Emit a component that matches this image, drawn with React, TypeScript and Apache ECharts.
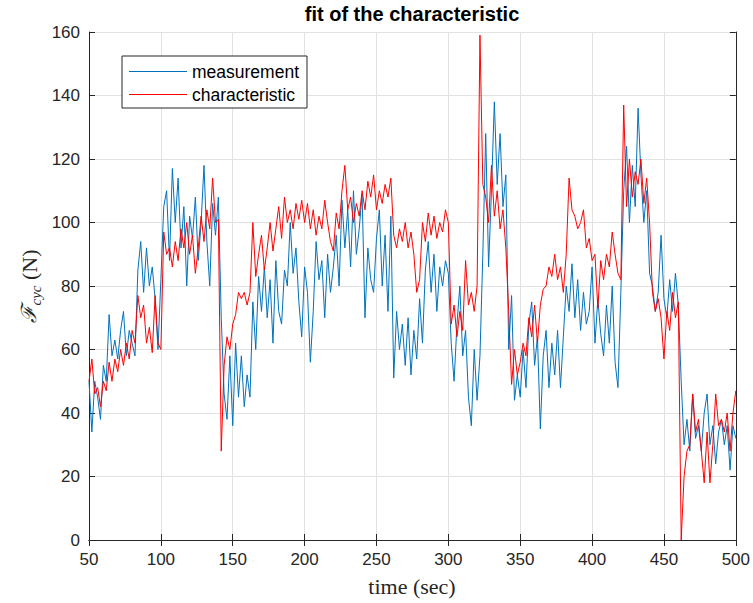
import React, { useEffect, useRef } from "react";
import * as echarts from "echarts";

const T0 = 50;
const STEP = 2;

// measurement (blue), t = 50..500 every 2 s
const measurement = [
  50, 34, 50, 45, 38, 55, 50, 71, 58, 63,
  57, 66, 72, 58, 66, 62, 58, 85, 94, 78,
  92, 80, 86, 76, 60, 82, 105, 110, 88, 117,
  100, 114, 92, 105, 80, 102, 95, 108, 88, 100,
  118, 94, 80, 106, 96, 108, 70, 46, 38, 58,
  36, 62, 45, 58, 42, 52, 45, 75, 60, 83,
  72, 86, 70, 82, 62, 88, 72, 68, 85, 80,
  100, 84, 92, 75, 64, 86, 78, 56, 72, 94,
  82, 88, 70, 90, 78, 86, 96, 80, 107, 92,
  104, 86, 110, 90, 98, 109, 70, 92, 82, 78,
  95, 104, 80, 96, 72, 102, 51, 72, 60, 68,
  55, 70, 52, 66, 57, 76, 62, 85, 94, 78,
  90, 72, 86, 80, 88, 84, 62, 50, 68, 80,
  58, 66, 45, 36, 60, 44, 58, 90, 128, 86,
  110, 138, 112, 128, 105, 115, 60, 77, 44, 52,
  45, 60, 48, 68, 75, 55, 64, 35, 58, 66,
  48, 62, 52, 66, 48, 64, 80, 72, 87, 70,
  82, 66, 78, 68, 72, 86, 62, 76, 65, 58,
  74, 62, 80, 56, 48, 78, 110, 124, 100, 118,
  105, 136, 115, 100, 110, 84, 80, 72, 78, 96,
  76, 70, 82, 72, 84, 74, 50, 30, 38, 28,
  46, 32, 36, 28, 40, 46, 30, 36, 24, 34,
  38, 30, 36, 22, 36, 32,
];

// characteristic (red), t = 50..500 every 2 s
const characteristic = [
  50, 57, 46, 48, 42, 50, 47, 56, 50, 57,
  53, 60, 55, 62, 57, 66, 62, 77, 70, 74,
  62, 67, 59, 77, 62, 60, 97, 90, 92, 86,
  94, 88, 98, 92, 100, 90, 96, 84, 92, 102,
  94, 104, 98, 114, 100, 101, 28, 55, 64, 60,
  68, 71, 78, 76, 78, 74, 78, 100, 83, 90,
  96, 85, 92, 100, 91, 98, 105, 95, 108, 100,
  104, 98, 106, 101, 107, 100, 106, 98, 104, 96,
  102, 98, 107, 100, 94, 91, 103, 98, 110, 118,
  104, 108, 100, 106, 102, 110, 104, 113, 108, 115,
  104, 110, 106, 112, 108, 114, 96, 92, 98, 94,
  100, 92, 97, 90, 78, 82, 100, 94, 103, 96,
  102, 95, 100, 97, 104, 100, 68, 74, 64, 72,
  66, 88, 74, 78, 72, 80, 159, 112, 108, 100,
  118, 102, 110, 98, 104, 92, 72, 49, 60, 52,
  56, 62, 58, 70, 64, 74, 62, 74, 79, 80,
  86, 83, 90, 82, 86, 78, 90, 114, 104, 102,
  98, 100, 104, 92, 95, 88, 90, 73, 88, 82,
  90, 86, 97, 90, 84, 82, 137, 105, 120, 108,
  116, 112, 120, 106, 114, 100, 78, 72, 76, 70,
  57, 72, 66, 78, 70, 75, 0, 20, 28, 30,
  46, 34, 38, 28, 18, 34, 18, 30, 46, 36,
  38, 34, 40, 28, 40, 47,
];

const seriesNames = ["measurement", "characteristic"];
const seriesColors = ["#0072BD", "#FF0000"];
const xRange = [50, 500];
const yRange = [0, 160];
const xInterval = 50;
const yInterval = 20;

const AXIS_COLOR = "#262626";
const GRID_COLOR = "#e2e2e2";
const SANS = "Liberation Sans, Arial, Helvetica, sans-serif";
const SERIF = "Liberation Serif, DejaVu Serif, serif";

export default function App() {
  const ref = useRef<HTMLDivElement>(null);
  useEffect(() => {
    if (!ref.current) return;
    const chart = echarts.init(ref.current, null, { renderer: "svg" });
    const toPairs = (arr: number[]) => arr.map((v, i) => [T0 + i * STEP, v]);
    const axisCommon = {
      axisLine: { show: true, lineStyle: { color: AXIS_COLOR, width: 1 } },
      axisTick: { show: true, inside: true, length: 6, lineStyle: { color: AXIS_COLOR } },
    };
    chart.setOption({
      animation: false,
      backgroundColor: "#ffffff",
      grid: { left: 89, right: 17, top: 32, bottom: 63, containLabel: false },
      legend: {
        orient: "vertical",
        left: 122,
        top: 56,
        data: seriesNames.map((n) => ({ name: n, icon: "rect" })),
        itemWidth: 58,
        itemHeight: 1,
        itemGap: 4,
        padding: [6, 8, 4, 7],
        borderColor: "#262626",
        borderWidth: 1,
        backgroundColor: "#ffffff",
        textStyle: { fontFamily: SANS, fontSize: 17.5, color: "#000", lineHeight: 19 },
      },
      xAxis: [
        {
          type: "value",
          min: xRange[0],
          max: xRange[1],
          interval: xInterval,
          position: "bottom",
          ...axisCommon,
          axisLabel: { color: AXIS_COLOR, fontFamily: SANS, fontSize: 17, margin: 11 },
          splitLine: { show: true, lineStyle: { color: GRID_COLOR, width: 1 } },
        },
        {
          type: "value",
          min: xRange[0],
          max: xRange[1],
          interval: xInterval,
          position: "top",
          ...axisCommon,
          axisLabel: { show: false },
          splitLine: { show: false },
        },
      ],
      yAxis: [
        {
          type: "value",
          min: yRange[0],
          max: yRange[1],
          interval: yInterval,
          position: "left",
          ...axisCommon,
          axisLabel: { color: AXIS_COLOR, fontFamily: SANS, fontSize: 17, margin: 9 },
          splitLine: { show: true, lineStyle: { color: GRID_COLOR, width: 1 } },
        },
        {
          type: "value",
          min: yRange[0],
          max: yRange[1],
          interval: yInterval,
          position: "right",
          ...axisCommon,
          axisLabel: { show: false },
          splitLine: { show: false },
        },
      ],
      series: [
        {
          name: seriesNames[0],
          type: "line",
          data: toPairs(measurement),
          showSymbol: false,
          symbol: "none",
          color: seriesColors[0],
          lineStyle: { width: 1, color: seriesColors[0] },
        },
        {
          name: seriesNames[1],
          type: "line",
          data: toPairs(characteristic),
          showSymbol: false,
          symbol: "none",
          color: seriesColors[1],
          lineStyle: { width: 1, color: seriesColors[1] },
        },
      ],
      graphic: [
        {
          type: "text",
          x: 412,
          y: 14,
          style: {
            text: "fit of the characteristic",
            fontFamily: SANS,
            fontSize: 20,
            fontWeight: "bold",
            fill: "#000",
            align: "center",
            verticalAlign: "middle",
          },
        },
        {
          type: "text",
          x: 412,
          y: 586,
          style: {
            text: "time (sec)",
            fontFamily: SERIF,
            fontSize: 22,
            fill: AXIS_COLOR,
            align: "center",
            verticalAlign: "middle",
          },
        },
        {
          type: "text",
          x: 29,
          y: 286,
          rotation: Math.PI / 2,
          style: {
            text: "{f|ℱ}{s|cyc}{n| (N)}",
            align: "center",
            verticalAlign: "middle",
            fill: AXIS_COLOR,
            rich: {
              f: { fontFamily: "DejaVu Serif, serif", fontSize: 21, fontStyle: "italic", fill: AXIS_COLOR, lineHeight: 28, verticalAlign: "middle" },
              s: { fontFamily: SERIF, fontSize: 15, fontStyle: "italic", fill: AXIS_COLOR, lineHeight: 28, verticalAlign: "bottom", padding: [8, 0, 0, 0] },
              n: { fontFamily: SERIF, fontSize: 22, fill: AXIS_COLOR, lineHeight: 28, verticalAlign: "middle" },
            },
          },
        },
      ],
    });
    return () => chart.dispose();
  }, []);
  return <div ref={ref} style={{ width: 753, height: 603, position: "absolute", left: 0, top: 0 }} />;
}
